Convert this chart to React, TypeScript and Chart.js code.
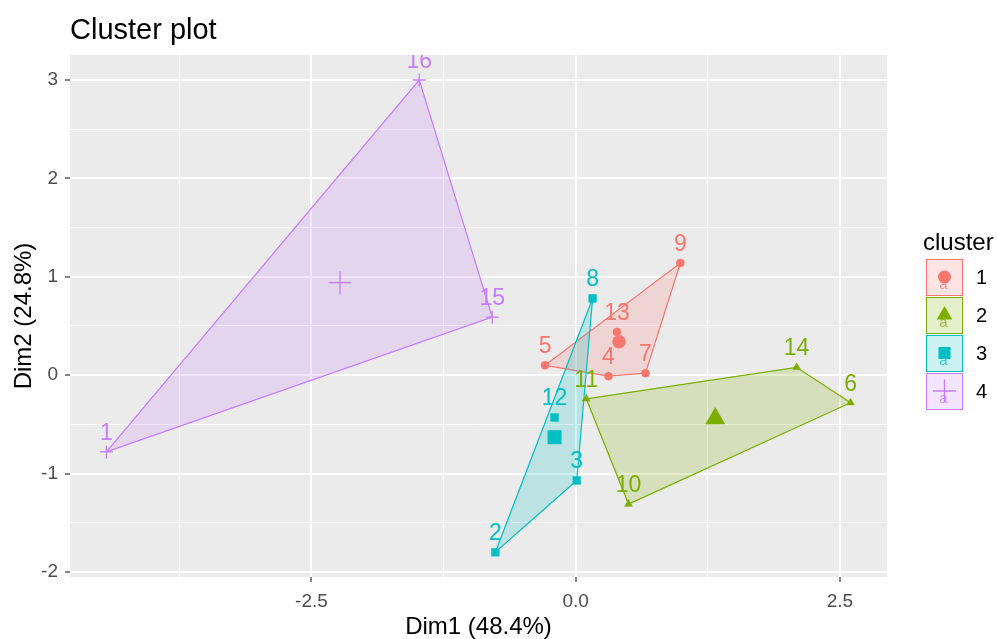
import React, { useEffect, useRef } from 'react';
import { Chart, registerables } from 'chart.js';

Chart.register(...registerables);

const FONT = "'Liberation Sans', Arial, Helvetica, sans-serif";

// ---- data ----
const clusterNames = ['1', '2', '3', '4'];
const clusterColors = ['#F8766D', '#7CAE00', '#00BFC4', '#C77CFF'];
const clusterFills = [
  'rgba(248,118,109,0.2)',
  'rgba(124,174,0,0.2)',
  'rgba(0,191,196,0.2)',
  'rgba(199,124,255,0.2)',
];
const clusterShapes = ['circle', 'triangle', 'rect', 'cross'];

const c1Ids = ['4', '5', '7', '9', '13'];
const c1X = [0.31, -0.29, 0.66, 0.99, 0.39];
const c1Y = [-0.01, 0.1, 0.02, 1.14, 0.44];
const c1Hull = ['5', '4', '7', '9'];

const c2Ids = ['6', '10', '11', '14'];
const c2X = [2.6, 0.5, 0.1, 2.09];
const c2Y = [-0.28, -1.31, -0.24, 0.08];
const c2Hull = ['11', '10', '6', '14'];

const c3Ids = ['2', '3', '8', '12'];
const c3X = [-0.76, 0.01, 0.16, -0.2];
const c3Y = [-1.8, -1.07, 0.78, -0.43];
const c3Hull = ['8', '3', '2'];

const c4Ids = ['1', '15', '16'];
const c4X = [-4.44, -0.79, -1.48];
const c4Y = [-0.78, 0.59, 3.0];
const c4Hull = ['1', '15', '16'];

const centroidX = [0.41, 1.32, -0.2, -2.23];
const centroidY = [0.34, -0.44, -0.63, 0.94];

const xMajorTicks = [-2.5, 0, 2.5];
const xMinorTicks = [-3.75, -1.25, 1.25];
const yMajorTicks = [-2, -1, 0, 1, 2, 3];
const yMinorTicks = [-1.5, -0.5, 0.5, 1.5, 2.5];
const xRange = [-4.784, 2.945];
const yRange = [-2.051, 3.254];

const titleText = 'Cluster plot';
const xTitle = 'Dim1 (48.4%)';
const yTitle = 'Dim2 (24.8%)';
const legendTitle = 'cluster';

// ---- styling ----
const pointRadii = [4, 4.5, 5.5, 6.5];
const centroidRadii = [6.5, 11, 9.5, 11.5];
const legendMarkerRadii = [6.5, 9, 8.5, 11.5];

const clusters = [
  { ids: c1Ids, xs: c1X, ys: c1Y, hull: c1Hull },
  { ids: c2Ids, xs: c2X, ys: c2Y, hull: c2Hull },
  { ids: c3Ids, xs: c3X, ys: c3Y, hull: c3Hull },
  { ids: c4Ids, xs: c4X, ys: c4Y, hull: c4Hull },
];

function drawMarker(ctx: CanvasRenderingContext2D, style: string, x: number, y: number, r: number, color: string) {
  ctx.fillStyle = color;
  ctx.strokeStyle = color;
  ctx.lineWidth = 1.3;
  ctx.beginPath();
  if (style === 'circle') {
    ctx.arc(x, y, r, 0, Math.PI * 2);
    ctx.fill();
  } else if (style === 'triangle') {
    ctx.moveTo(x, y - r);
    ctx.lineTo(x + r * 0.866, y + r * 0.5);
    ctx.lineTo(x - r * 0.866, y + r * 0.5);
    ctx.closePath();
    ctx.fill();
  } else if (style === 'rect') {
    ctx.rect(x - r * 0.707, y - r * 0.707, r * 1.414, r * 1.414);
    ctx.fill();
  } else {
    ctx.moveTo(x - r, y);
    ctx.lineTo(x + r, y);
    ctx.moveTo(x, y - r);
    ctx.lineTo(x, y + r);
    ctx.stroke();
  }
}

const panelBg = {
  id: 'panelBg',
  beforeDraw(chart: any) {
    const { ctx, chartArea } = chart;
    ctx.save();
    ctx.fillStyle = '#FFFFFF';
    ctx.fillRect(0, 0, chart.width, chart.height);
    ctx.fillStyle = '#EBEBEB';
    ctx.fillRect(chartArea.left, chartArea.top, chartArea.right - chartArea.left, chartArea.bottom - chartArea.top);
    ctx.restore();
  },
};

const pointLabels = {
  id: 'pointLabels',
  afterDatasetsDraw(chart: any) {
    const { ctx, chartArea } = chart;
    ctx.save();
    ctx.beginPath();
    ctx.rect(chartArea.left, chartArea.top, chartArea.right - chartArea.left, chartArea.bottom - chartArea.top);
    ctx.clip();
    ctx.font = `23px ${FONT}`;
    ctx.textAlign = 'center';
    ctx.textBaseline = 'alphabetic';
    chart.data.datasets.forEach((ds: any, di: number) => {
      if (!ds.pointLabels) return;
      const meta = chart.getDatasetMeta(di);
      ctx.fillStyle = ds.labelColor;
      meta.data.forEach((el: any, j: number) => {
        ctx.fillText(ds.pointLabels[j], el.x, el.y - 12);
      });
    });
    ctx.restore();
  },
};

const decorations = {
  id: 'decorations',
  afterDraw(chart: any) {
    const { ctx, chartArea } = chart;
    ctx.save();
    // title
    ctx.fillStyle = '#000000';
    ctx.font = `29px ${FONT}`;
    ctx.textAlign = 'left';
    ctx.textBaseline = 'alphabetic';
    ctx.fillText(titleText, chartArea.left, 39);
    // x title
    ctx.font = `24px ${FONT}`;
    ctx.textAlign = 'center';
    ctx.fillText(xTitle, (chartArea.left + chartArea.right) / 2, 634);
    // y title
    ctx.save();
    ctx.translate(31, (chartArea.top + chartArea.bottom) / 2);
    ctx.rotate(-Math.PI / 2);
    ctx.fillText(yTitle, 0, 0);
    ctx.restore();
    // legend
    ctx.textAlign = 'left';
    ctx.font = `24px ${FONT}`;
    ctx.fillText(legendTitle, 923, 250);
    const kx = 926, kw = 37, kh = 37, step = 38, ky0 = 259;
    clusterNames.forEach((name, i) => {
      const top = ky0 + i * step;
      ctx.fillStyle = '#FFFFFF';
      ctx.fillRect(kx, top, kw, kh);
      ctx.fillStyle = clusterFills[i];
      ctx.fillRect(kx, top, kw, kh);
      ctx.strokeStyle = clusterColors[i];
      ctx.lineWidth = 1;
      ctx.strokeRect(kx + 0.5, top + 0.5, kw - 1, kh - 1);
      const cx = kx + kw / 2;
      drawMarker(ctx, clusterShapes[i], cx, top + 18, legendMarkerRadii[i], clusterColors[i]);
      ctx.fillStyle = clusterColors[i];
      ctx.globalAlpha = 0.75;
      ctx.font = `15px ${FONT}`;
      ctx.textAlign = 'center';
      ctx.fillText('a', cx - 1, top + 30);
      ctx.globalAlpha = 1;
      ctx.fillStyle = '#000000';
      ctx.font = `20px ${FONT}`;
      ctx.textAlign = 'left';
      ctx.textBaseline = 'middle';
      ctx.fillText(name, 976, top + kh / 2 + 1);
      ctx.textBaseline = 'alphabetic';
    });
    ctx.restore();
  },
};

export default function App() {
  const ref = useRef<HTMLCanvasElement | null>(null);

  useEffect(() => {
    if (!ref.current) return;
    const datasets: any[] = [];
    clusters.forEach((c, i) => {
      const hullPts = c.hull.map((id) => {
        const k = c.ids.indexOf(id);
        return { x: c.xs[k], y: c.ys[k] };
      });
      hullPts.push(hullPts[0]);
      datasets.push({
        type: 'line',
        data: hullPts,
        fill: 'shape',
        backgroundColor: clusterFills[i],
        borderColor: clusterColors[i],
        borderWidth: 1.2,
        pointRadius: 0,
        tension: 0,
        order: 20 - i,
      });
    });
    clusters.forEach((c, i) => {
      datasets.push({
        type: 'scatter',
        data: c.xs.map((x, k) => ({ x, y: c.ys[k] })),
        pointStyle: clusterShapes[i],
        pointRadius: pointRadii[i],
        backgroundColor: clusterColors[i],
        borderColor: clusterColors[i],
        borderWidth: clusterShapes[i] === 'cross' ? 1.3 : 0.5,
        pointLabels: c.ids,
        labelColor: clusterColors[i],
        order: 8 - i,
      });
    });
    datasets.push({
      type: 'scatter',
      data: centroidX.map((x, i) => ({ x, y: centroidY[i] })),
      pointStyle: clusterShapes,
      pointRadius: centroidRadii,
      backgroundColor: clusterColors,
      borderColor: clusterColors,
      borderWidth: clusterShapes.map((s) => (s === 'cross' ? 1.3 : 0.5)),
      order: 1,
    });

    const xTicks = [...xMinorTicks, ...xMajorTicks].sort((a, b) => a - b);
    const yTicks = [...yMinorTicks, ...yMajorTicks].sort((a, b) => a - b);

    const chart = new Chart(ref.current, {
      type: 'scatter',
      data: { datasets },
      options: {
        responsive: false,
        animation: false,
        events: [],
        layout: { padding: { left: 0, right: 111, top: 55, bottom: 0 } },
        plugins: { legend: { display: false }, tooltip: { enabled: false }, title: { display: false } },
        scales: {
          x: {
            type: 'linear',
            min: xRange[0],
            max: xRange[1],
            afterBuildTicks: (scale: any) => {
              scale.ticks = xTicks.map((v) => ({ value: v }));
            },
            afterFit: (scale: any) => {
              scale.height = 62;
            },
            border: { display: false },
            grid: {
              color: '#FFFFFF',
              lineWidth: (ctx: any) => (xMajorTicks.includes(ctx.tick?.value) ? 2 : 1),
              tickColor: (ctx: any) => (xMajorTicks.includes(ctx.tick?.value) ? '#333333' : 'rgba(0,0,0,0)'),
              tickWidth: 1.2,
              tickLength: 5,
            },
            ticks: {
              autoSkip: false,
              maxRotation: 0,
              padding: 8,
              color: '#4D4D4D',
              font: { family: FONT, size: 19 },
              callback: (v: any) => (xMajorTicks.includes(Number(v)) ? Number(v).toFixed(1) : ''),
            },
          },
          y: {
            type: 'linear',
            min: yRange[0],
            max: yRange[1],
            afterBuildTicks: (scale: any) => {
              scale.ticks = yTicks.map((v) => ({ value: v }));
            },
            afterFit: (scale: any) => {
              scale.width = 70;
            },
            border: { display: false },
            grid: {
              color: '#FFFFFF',
              lineWidth: (ctx: any) => (yMajorTicks.includes(ctx.tick?.value) ? 2 : 1),
              tickColor: (ctx: any) => (yMajorTicks.includes(ctx.tick?.value) ? '#333333' : 'rgba(0,0,0,0)'),
              tickWidth: 1.2,
              tickLength: 5,
            },
            ticks: {
              autoSkip: false,
              padding: 7,
              color: '#4D4D4D',
              font: { family: FONT, size: 19 },
              callback: (v: any) => (yMajorTicks.includes(Number(v)) ? String(Number(v)) : ''),
            },
          },
        },
      } as any,
      plugins: [panelBg, pointLabels, decorations],
    });
    return () => chart.destroy();
  }, []);

  return (
    <div style={{ position: 'fixed', left: 0, top: 0, width: 998, height: 639, background: '#FFFFFF' }}>
      <canvas ref={ref} width={998} height={639} style={{ width: 998, height: 639, display: 'block' }} />
    </div>
  );
}
